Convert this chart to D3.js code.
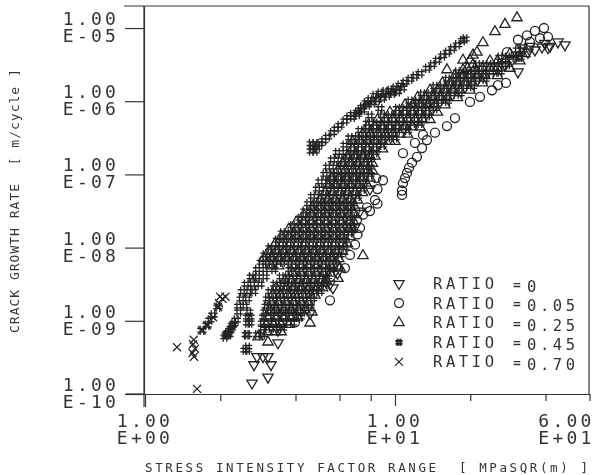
<!DOCTYPE html>
<html>
<head>
<meta charset="utf-8">
<script src="https://cdnjs.cloudflare.com/ajax/libs/d3/7.8.5/d3.min.js"></script>
<style>
	html, body { margin: 0; padding: 0; background: #fff; }
	svg { display: block; filter: blur(0.45px); }
	text { font-family: "DejaVu Sans Mono", monospace; fill: #333; }
</style>
</head>
<body>
<svg id="one" width="592" height="475"></svg>
<script>
// every row is [log10 rate, log10 dK, log10 dK, ...]

var ratio0 = [
	[-9.85,.428],[-9.77,.492],[-9.6,.436,.504],[-9.49,.448,.472,.492],[-9.3,.532],[-9.13,.532],
	[-8.55,.752],[-8.5,.74],[-8.9,.66],[-8.35,.77],
	[-7.72,.84],[-7.5,.86],[-7.2,.9],
	[-5.6,1.492],[-5.5,1.44],[-5.44,1.468],[-5.37,1.5],[-5.33,1.532],[-5.3,1.56],[-5.27,1.508,1.612],
	[-5.26,1.588],[-5.25,1.54,1.62],[-5.23,1.68],[-5.19,1.652],[-5.21,1.6]
];
var ratio05 = [
	[-9.02,.6],[-8.72,.74],[-8.28,.8],[-8.1,.82],[-7.96,.84],[-7.82,.85],[-7.73,.86],[-7.62,.848],
	[-7.55,.872],[-7.5,.9],[-7.45,.888],[-7.4,.93],[-7.35,.92],[-7.28,1.028],[-7.22,1.028],[-7.2,.93],
	[-7.12,1.032],[-7.08,.952],[-7.05,1.04,.925],[-6.98,1.048],[-6.91,1.056],[-6.84,1.068],
	[-6.76,1.088],[-6.71,1.032],[-6.64,1.108],[-6.57,1.08],[-6.53,1.128],[-6.46,1.112],[-6.43,1.16],
	[-6.34,1.208],[-6.23,1.24],[-6.01,1.3],[-5.94,1.34],[-5.85,1.388],[-5.78,1.412],[-5.75,1.444],
	[-5.33,1.448],[-5.19,1.54],[-5.16,1.492],[-5.14,1.58],[-5.12,1.612],[-5.1,1.528],[-5.04,1.56],[-5,1.596]
];
var ratio25 = [
	[-9.29,.492],[-9.22,.452],[-9.15,.49,.52,.545],[-9.05,.485,.515,.545,.575],[-9.03,.66],
	[-8.95,.49,.525,.555,.585,.61],[-8.88,.668],[-8.85,.5,.525,.555,.585,.615,.64],
	[-8.75,.505,.535,.565,.595,.625,.655],[-8.65,.51,.54,.57,.6,.63,.66,.68],
	[-8.55,.525,.565,.595,.625,.655,.685,.71],[-8.45,.56,.585,.615,.645,.675,.705,.725],
	[-8.42,.772],[-8.35,.59,.625,.655,.685,.715,.74],[-8.28,.78],
	[-8.25,.505,.535,.595,.625,.655,.685,.715,.745,.77],[-8.15,.475,.505,.535,.565,.595,.625,.655,.685,.715,.745,.775],
	[-8.11,.872],[-8.05,.495,.525,.555,.585,.615,.645,.675,.705,.735,.765,.79],
	[-7.95,.52,.55,.58,.61,.64,.67,.7,.73,.76,.79,.81],[-7.85,.545,.575,.605,.635,.665,.695,.725,.755,.785,.82],
	[-7.75,.575,.605,.635,.665,.695,.725,.755,.785,.815,.83],[-7.65,.605,.635,.665,.695,.725,.755,.785,.815,.835],
	[-7.55,.635,.665,.695,.725,.755,.785,.815,.835],[-7.45,.67,.7,.73,.76,.79,.82,.84],
	[-7.35,.7,.73,.76,.79,.82,.85],[-7.25,.72,.75,.78,.81,.84,.87],[-7.15,.735,.765,.795,.825,.855,.89],
	[-7.05,.745,.775,.805,.835,.865,.9],[-6.95,.77,.8,.83,.86,.89,.91],[-6.85,.79,.82,.85,.88,.91],
	[-6.75,.81,.84,.87,.9,.92],[-6.65,.83,.86,.89,.92,.95],[-6.55,.83,.86,.89,.92,.95,.98,1],
	[-6.45,.87,.9,.93,.96,.99,1.02,1.05],[-6.35,.89,.92,.95,.98,1.01,1.04,1.07,1.1],
	[-6.25,.93,.96,.99,1.02,1.05,1.08,1.11,1.14],[-6.15,.98,1.01,1.04,1.07,1.1,1.13,1.17],
	[-6.05,1.04,1.07,1.1,1.13,1.16,1.2],[-5.95,1.09,1.12,1.15,1.18,1.21,1.25],
	[-5.85,1.14,1.17,1.2,1.23,1.26,1.3],[-5.75,1.19,1.22,1.25,1.28,1.31,1.35],
	[-5.65,1.24,1.27,1.3,1.33,1.36,1.41],[-5.57,1.208,1.272],[-5.55,1.29,1.32,1.35,1.38,1.41,1.46],
	[-5.5,1.312],[-5.45,1.38,1.41,1.44,1.5],[-5.44,1.272,1.3],[-5.37,1.312],[-5.35,1.46,1.52],
	[-5.33,1.328],[-5.2,1.352],[-5.05,1.4],[-4.95,1.44],[-4.86,1.488]
];
var ratio45 = [
	[-9.4,.4,.41],[-9.36,.41],[-9.22,.32],[-9.19,.405,.41,.45,.47,.325,.335],[-9.17,.33],[-9.13,.228,.34],
	[-9.1,.47,.49,.52,.55,.345],[-9.06,.248,.35],[-9.04,.355],[-9.03,.41,.42,.47,.5,.53,.56,.59],[-8.99,.26,.365],
	[-8.95,.41,.42,.475,.51,.54,.57,.6,.62],[-8.92,.272],[-8.88,.375,.415,.48,.51,.54,.57,.6,.63],[-8.81,.292],
	[-8.8,.375,.4,.485,.51,.54,.57,.6,.63,.66],[-8.7,.385,.41,.49,.52,.55,.58,.61,.64,.67],
	[-8.6,.39,.415,.435,.5,.53,.56,.59,.62,.65,.68,.7],[-8.5,.405,.43,.46,.52,.55,.58,.61,.64,.67,.7,.72],
	[-8.4,.425,.45,.48,.545,.57,.6,.63,.66,.69,.72,.73],[-8.3,.45,.48,.515,.58,.61,.64,.67,.7,.73,.75],
	[-8.2,.465,.49,.52,.55,.58,.61,.64,.67,.7,.73,.76],[-8.1,.48,.51,.54,.57,.6,.63,.66,.69,.72,.75,.78],
	[-8,.5,.53,.56,.59,.62,.65,.68,.71,.74,.77,.8],[-7.9,.53,.56,.59,.62,.65,.68,.71,.74,.77,.8],
	[-7.8,.55,.58,.61,.64,.67,.7,.73,.76,.79,.82],[-7.7,.59,.62,.65,.68,.71,.74,.77,.8,.83],
	[-7.6,.62,.65,.68,.71,.74,.77,.8,.83],[-7.5,.64,.67,.7,.73,.76,.79,.82],[-7.4,.655,.68,.71,.74,.77,.8,.83],
	[-7.3,.67,.7,.73,.76,.79,.82,.85],[-7.2,.69,.72,.75,.78,.81,.84,.87],[-7.1,.7,.73,.76,.79,.82,.85,.88],
	[-7,.72,.75,.78,.81,.84,.87,.9],[-6.9,.73,.76,.79,.82,.85,.88,.9],[-6.8,.75,.78,.81,.84,.87,.9],
	[-6.7,.77,.8,.83,.86,.89,.92],[-6.68,.665,.68],[-6.6,.8,.83,.86,.89,.92,.95],[-6.63,.67,.69],[-6.58,.665,.68,.7],
	[-6.54,.715],[-6.5,.82,.85,.88,.91,.94,.97,1],[-6.49,.73],[-6.43,.75],[-6.4,.86,.89,.92,.95,.98,1.01,1.05],
	[-6.38,.765],[-6.33,.78],[-6.3,.89,.92,.95,.98,1.01,1.04,1.07,1.1],[-6.27,.8],[-6.22,.815,.83],
	[-6.2,.9,.95,.98,1.01,1.04,1.07,1.1,1.13],[-6.18,.83,.85],[-6.15,.85],[-6.12,.86,.87],[-6.1,.94,1.01,1.04,1.07,1.1,1.13,1.16],
	[-6.08,.87],[-6.05,.89],[-6.02,.885,.91],[-6,1.06,1.09,1.12,1.15,1.18,1.21],[-5.98,.9,.93],[-5.96,.95],[-5.92,.92,.97],
	[-5.9,1.11,1.14,1.17,1.2,1.23,1.26],[-5.89,.94,.99],[-5.87,.96,1.01],[-5.85,.98],[-5.82,1,1.03],
	[-5.8,1.16,1.19,1.22,1.25,1.28,1.31],[-5.78,1.02],[-5.74,1.04],[-5.7,1.21,1.24,1.27,1.3,1.33,1.36,1.06],
	[-5.66,1.08],[-5.62,1.1],[-5.6,1.25,1.28,1.31,1.34,1.37,1.4,1.42],[-5.55,1.13],[-5.5,1.33,1.36,1.39,1.42,1.45,1.15],
	[-5.44,1.17],[-5.4,1.42,1.45,1.48,1.5],[-5.38,1.19],[-5.33,1.21],[-5.3,1.49,1.51],[-5.28,1.23],[-5.23,1.25],[-5.17,1.27],[-5.15,1.28]
];
var ratio70 = [
	[-9.93,.208],[-9.49,.196],[-9.44,.19],[-9.38,.2],[-9.36,.128],[-9.32,.192],[-9.26,.195],
	[-9.13,.228],[-9.06,.248],[-8.95,.272],[-8.81,.292],[-8.76,.296],[-8.7,.31],[-8.67,.3,.322],[-8.4,.432]
];

var seriesData = [ratio0, ratio05, ratio25, ratio45, ratio70];
var legendValues = ["0", "0.05", "0.25", "0.45", "0.70"];

var xTicks = [1, 2, 4, 6, 8, 10, 20, 40, 60];
var xMajorTicks = [1, 10];
var xLabels = [["1.00", "E+00", 1], ["1.00", "E+01", 10], ["6.00", "E+01", 60]];
var yTicks = [1e-5, 1e-6, 1e-7, 1e-8, 1e-9, 1e-10];
var yLabels = ["E-05", "E-06", "E-07", "E-08", "E-09", "E-10"];

var svg = d3.select("#one");
var ink = "#222";

var x = d3.scaleLog().domain([1, 60]).range([145, 589.5]);
var y = d3.scaleLog().domain([1e-10, 2e-5]).range([394, 6]);

// the plotter's double cross
var symbolHash = {
	draw: function(context, size) {
		var a = Math.sqrt(size) / 2, b = a * 0.38;
		context.moveTo(-a, -b); context.lineTo(a, -b);
		context.moveTo(-a, b); context.lineTo(a, b);
		context.moveTo(-b, -a); context.lineTo(-b, a);
		context.moveTo(b, -a); context.lineTo(b, a);
	}
};

var markers = [
	{ type: d3.symbolTriangle, size: 46, rot: 180, sw: 1.3 },
	{ type: d3.symbolCircle, size: 64, rot: 0, sw: 1.3 },
	{ type: d3.symbolTriangle, size: 46, rot: 0, sw: 1.3 },
	{ type: symbolHash, size: 90, rot: 0, sw: 1.3 },
	{ type: d3.symbolX, size: 44, rot: 0, sw: 1.3 }
];

function points(rows) {
	var out = [];
	rows.forEach(function(row) {
		row.slice(1).forEach(function(k) {
			out.push({ k: Math.pow(10, k), rate: Math.pow(10, row[0]) });
		});
	});
	return out;
}

function markerPath(m) {
	return d3.symbol().type(m.type).size(m.size)();
}

// marks
var order = [0, 1, 2, 3, 4];
order.forEach(function(s) {
	var m = markers[s];
	svg.append("g").selectAll("path")
		.data(points(seriesData[s]))
		.enter().append("path")
			.attr("d", markerPath(m))
			.attr("fill", "none")
			.attr("stroke", ink)
			.attr("stroke-width", m.sw)
			.attr("transform", function(d) {
				return "translate(" + x(d.k) + "," + y(d.rate) + ") rotate(" + m.rot + ")";
			});
});

// axes
var yAxis = d3.axisLeft(y).tickValues(yTicks).tickFormat("").tickSize(19).tickSizeOuter(0);
svg.append("g").attr("transform", "translate(144,0)").call(yAxis);

var xAxis = d3.axisBottom(x).tickValues(xTicks).tickFormat("").tickSizeOuter(0)
	.tickSizeInner(7);
var xg = svg.append("g").attr("transform", "translate(0,394)").call(xAxis);
xg.selectAll(".tick line")
	.attr("y2", function(d) { return d == 1 ? 13 : (d == 10 ? 12 : 7); });

// frame pieces around the axes
svg.append("line").attr("x1", 124).attr("x2", 589).attr("y1", 6).attr("y2", 6);
svg.append("line").attr("x1", 589).attr("x2", 589).attr("y1", 6).attr("y2", 394);
svg.append("line").attr("x1", 126).attr("x2", 145).attr("y1", 394).attr("y2", 394);
svg.append("line").attr("x1", 144).attr("x2", 144).attr("y1", 6).attr("y2", 407);
svg.selectAll("line, .domain")
	.attr("stroke", "#333")
	.attr("stroke-width", 1.2)
	.attr("fill", "none");

// tick labels
yTicks.forEach(function(t, i) {
	var g = svg.append("g").attr("transform", "translate(119," + y(t) + ")")
		.attr("text-anchor", "end")
		.style("font-size", "18px")
		.style("letter-spacing", "3.2px");
	g.append("text").attr("y", -3).text("1.00");
	g.append("text").attr("y", 14).text(yLabels[i]);
});

xLabels.forEach(function(l) {
	var px = l[2] == 60 ? x(60) + 5 : x(l[2]) + 28;
	var g = svg.append("g").attr("transform", "translate(" + px + ",394)")
		.attr("text-anchor", "end")
		.style("font-size", "18px")
		.style("letter-spacing", "3.2px");
	g.append("text").attr("y", 33).text(l[0]);
	g.append("text").attr("y", 50).text(l[1]);
});

// axis titles
svg.append("text")
	.attr("x", 145).attr("y", 472)
	.style("font-size", "12.5px")
	.style("letter-spacing", "2.6px")
	.style("white-space", "pre")
	.text("STRESS INTENSITY FACTOR RANGE  [ MPaSQR(m) ]");

svg.append("text")
	.attr("transform", "translate(19,333) rotate(-90)")
	.style("font-size", "13px")
	.style("letter-spacing", "1px")
	.style("white-space", "pre")
	.text("CRACK GROWTH RATE  [ m/cycle ]");

// legend
legendValues.forEach(function(v, i) {
	var rowY = 283.5 + i * 19.6;
	var m = markers[i];
	svg.append("path")
		.attr("d", d3.symbol().type(m.type).size(i == 3 ? 52 : m.size)())
		.attr("fill", "none")
		.attr("stroke", ink)
		.attr("stroke-width", i == 3 ? 2 : 1.2)
		.attr("transform", "translate(399," + rowY + ") rotate(" + m.rot + ")");
	svg.append("text")
		.attr("x", 433).attr("y", rowY + 5.5)
		.style("font-size", "15.5px")
		.style("letter-spacing", "3.6px")
		.text("RATIO");
	svg.append("text")
		.attr("x", 513).attr("y", rowY + 5)
		.style("font-size", "13px")
		.style("font-weight", "bold")
		.text("=");
	svg.append("text")
		.attr("x", 527).attr("y", rowY + 8)
		.style("font-size", "15.5px")
		.style("letter-spacing", "3.6px")
		.text(v);
});
</script>
</body>
</html>
